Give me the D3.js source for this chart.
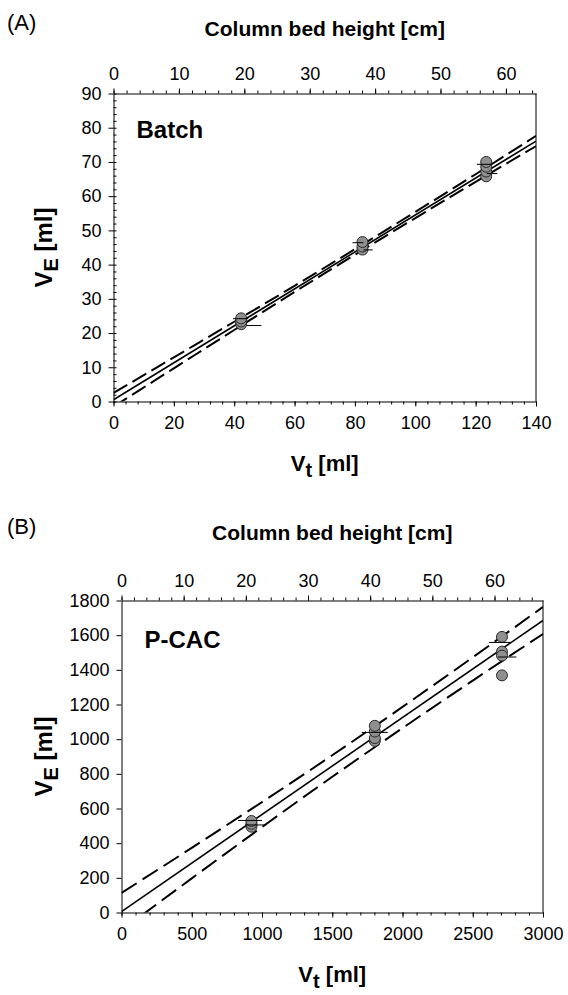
<!DOCTYPE html>
<html>
<head>
<meta charset="utf-8">
<script src="https://cdn.jsdelivr.net/npm/d3@7"></script>
<style>
    body { margin: 0; background: #fff; }
    svg { display: block; font-family: Arial, "Liberation Sans", sans-serif; }
    .axis path, .axis line { stroke: #000; stroke-width: 1; }
    .axis text { font-size: 18px; fill: #000; }
</style>
</head>
<body>
<svg id="chart" width="568" height="995"></svg>
<script>
// Panel titles / labels
const panelNames = ['(A)', '(B)'];
const insetNames = ['Batch', 'P-CAC'];
const topAxisTitle = 'Column bed height [cm]';

// Batch panel (A): [Vt ml, VE ml]
const batchPoints = [
    [42.3, 22.6], [42.3, 23.4], [42.3, 24.3],
    [82.5, 44.4], [82.5, 45.3], [82.5, 46.6],
    [123.5, 65.8], [123.5, 67.2], [123.5, 68.6], [123.5, 70.0]
];
// horizontal error bars: [x from, x to, y]
const batchErrors = [
    [39.6, 44.6, 24.2], [44.2, 49.0, 22.2],
    [79.2, 82.8, 46.4], [82.8, 85.9, 44.3],
    [120.4, 125.3, 69.3], [123.7, 127.2, 66.6]
];
const batchFit = [[0, 0.5], [140, 76.1]];
const batchUpper = [[0, 2.5], [20, 12.9], [40, 23.3], [60, 33.8], [80, 44.5], [100, 55.4], [120, 66.4], [140, 77.6]];
const batchLower = [[0, -1.5], [20, 9.7], [40, 20.9], [60, 32.0], [80, 42.9], [100, 53.6], [120, 64.2], [140, 74.6]];
const batchXTicks = [0, 20, 40, 60, 80, 100, 120, 140];
const batchYTicks = [0, 10, 20, 30, 40, 50, 60, 70, 80, 90];
const batchTopTicks = [0, 10, 20, 30, 40, 50, 60];
const batchTopMax = 64.6;

// P-CAC panel (B)
const pcacPoints = [
    [925, 495], [925, 512], [925, 528],
    [1803, 990], [1803, 1006], [1803, 1044], [1803, 1077],
    [2708, 1590], [2708, 1505], [2708, 1482], [2708, 1368]
];
const pcacErrors = [
    [830, 1000, 531], [880, 1030, 505],
    [1710, 1895, 1039],
    [2616, 2775, 1558], [2680, 2811, 1474]
];
const pcacFit = [[0, 5], [3000, 1685]];
const pcacUpper = [[0, 113], [500, 373], [1000, 637], [1500, 907], [2000, 1186], [2500, 1472], [3000, 1763]];
const pcacLower = [[0, -103], [500, 197], [1000, 493], [1500, 783], [2000, 1064], [2500, 1338], [3000, 1607]];
const pcacXTicks = [0, 500, 1000, 1500, 2000, 2500, 3000];
const pcacYTicks = [0, 200, 400, 600, 800, 1000, 1200, 1400, 1600, 1800];
const pcacTopTicks = [0, 10, 20, 30, 40, 50, 60];
const pcacTopMax = 67.8;

const svg = d3.select('#chart');
const fmt = d3.format('d');

/**
 * Draws one panel of the figure.
 */
function drawPanel(p) {
    const g = svg.append('g');
    const { left, right, top, bottom } = p.box;

    const x = d3.scaleLinear().domain(p.xDomain).range([left, right]);
    const xTop = d3.scaleLinear().domain([0, p.topMax]).range([left, right]);
    const y = d3.scaleLinear().domain(p.yDomain).range([bottom, top]);

    // frame (right edge)
    g.append('line')
        .attr('x1', right).attr('x2', right)
        .attr('y1', top).attr('y2', bottom)
        .attr('stroke', '#000');

    // minor ticks first
    g.append('g').attr('class', 'axis')
        .attr('transform', `translate(0,${bottom})`)
        .call(d3.axisBottom(x).tickValues(p.xMinor).tickSize(3).tickFormat(''))
        .select('.domain').remove();
    g.append('g').attr('class', 'axis')
        .attr('transform', `translate(0,${top})`)
        .call(d3.axisTop(xTop).tickValues(d3.range(0, p.topMax, 2)).tickSize(3).tickFormat(''))
        .select('.domain').remove();
    if (p.yMinor) {
        g.append('g').attr('class', 'axis')
            .attr('transform', `translate(${left},0)`)
            .call(d3.axisRight(y).tickValues(p.yMinor).tickSize(3).tickFormat(''))
            .select('.domain').remove();
    }

    // major axes
    g.append('g').attr('class', 'axis')
        .attr('transform', `translate(0,${bottom})`)
        .call(d3.axisBottom(x).tickValues(p.xTicks).tickFormat(fmt).tickSize(5).tickSizeOuter(0).tickPadding(10));
    g.append('g').attr('class', 'axis')
        .attr('transform', `translate(0,${top})`)
        .call(d3.axisTop(xTop).tickValues(p.topTicks).tickFormat(fmt).tickSize(5).tickSizeOuter(0).tickPadding(9));
    g.append('g').attr('class', 'axis')
        .attr('transform', `translate(${left},0)`)
        .call(d3.axisLeft(y).tickValues(p.yTicks).tickFormat(fmt).tickSize(5).tickSizeOuter(0).tickPadding(7));

    // clip region
    const clipId = 'clip-' + p.key;
    svg.append('clipPath').attr('id', clipId)
        .append('rect')
        .attr('x', left).attr('y', top)
        .attr('width', right - left).attr('height', bottom - top);

    const plot = g.append('g').attr('clip-path', `url(#${clipId})`);
    const line = d3.line().x(d => x(d[0])).y(d => y(d[1]));
    const curve = d3.line().x(d => x(d[0])).y(d => y(d[1])).curve(d3.curveMonotoneX);

    plot.append('path').datum(p.fit)
        .attr('d', line).attr('fill', 'none')
        .attr('stroke', '#000').attr('stroke-width', 1.6);
    [p.upper, p.lower].forEach(band => {
        plot.append('path').datum(band)
            .attr('d', curve).attr('fill', 'none')
            .attr('stroke', '#000').attr('stroke-width', 2)
            .attr('stroke-dasharray', p.dash);
    });

    // points
    plot.selectAll('circle.pt').data(p.points).join('circle')
        .attr('class', 'pt')
        .attr('cx', d => x(d[0])).attr('cy', d => y(d[1]))
        .attr('r', 5.5)
        .attr('fill', '#8f8f8f')
        .attr('stroke', '#2a2a2a').attr('stroke-width', 1);

    // horizontal error bars
    plot.selectAll('line.err').data(p.errors).join('line')
        .attr('class', 'err')
        .attr('x1', d => x(d[0])).attr('x2', d => x(d[1]))
        .attr('y1', d => y(d[2])).attr('y2', d => y(d[2]))
        .attr('stroke', '#000').attr('stroke-width', 1);

    // inset name
    g.append('text')
        .attr('x', left + 23).attr('y', top + p.insetDy)
        .attr('font-size', 24).attr('font-weight', 'bold')
        .text(p.inset);

    // panel letter & top title
    g.append('text')
        .attr('x', 7).attr('y', p.letterY)
        .attr('font-size', 22)
        .text(p.name);
    g.append('text')
        .attr('x', (left + right) / 2).attr('y', p.letterY + 6)
        .attr('text-anchor', 'middle')
        .attr('font-size', 21).attr('font-weight', 'bold')
        .text(topAxisTitle);

    // x title Vt [ml]
    const xt = g.append('text')
        .attr('x', (left + right) / 2).attr('y', bottom + 69)
        .attr('text-anchor', 'middle')
        .attr('font-size', 22).attr('font-weight', 'bold');
    xt.append('tspan').text('V');
    xt.append('tspan').attr('dy', 6).attr('font-size', 20).text('t');
    xt.append('tspan').attr('dy', -6).text(' [ml]');

    // y title VE [ml]
    const yt = g.append('text')
        .attr('transform', `translate(${p.yTitleX},${(top + bottom) / 2}) rotate(-90)`)
        .attr('text-anchor', 'middle')
        .attr('font-size', 24).attr('font-weight', 'bold');
    yt.append('tspan').text('V');
    yt.append('tspan').attr('dy', 6).attr('font-size', 20).text('E');
    yt.append('tspan').attr('dy', -6).text(' [ml]');
}

drawPanel({
    key: 'a', name: panelNames[0], inset: insetNames[0],
    box: { left: 113.5, right: 536, top: 93.5, bottom: 401.5 },
    xDomain: [0, 140], yDomain: [0, 90], topMax: batchTopMax,
    xTicks: batchXTicks, yTicks: batchYTicks, topTicks: batchTopTicks,
    xMinor: d3.range(0, 141, 4), yMinor: d3.range(0, 91, 2),
    points: batchPoints, errors: batchErrors,
    fit: batchFit, upper: batchUpper, lower: batchLower,
    dash: '16,6', letterY: 30, yTitleX: 52, insetDy: 44
});

drawPanel({
    key: 'b', name: panelNames[1], inset: insetNames[1],
    box: { left: 121.5, right: 543, top: 600.5, bottom: 912.5 },
    xDomain: [0, 3000], yDomain: [0, 1800], topMax: pcacTopMax,
    xTicks: pcacXTicks, yTicks: pcacYTicks, topTicks: pcacTopTicks,
    xMinor: d3.range(0, 3001, 100), yMinor: null,
    points: pcacPoints, errors: pcacErrors,
    fit: pcacFit, upper: pcacUpper, lower: pcacLower,
    dash: '18,7', letterY: 534, yTitleX: 52, insetDy: 47
});
</script>
</body>
</html>
